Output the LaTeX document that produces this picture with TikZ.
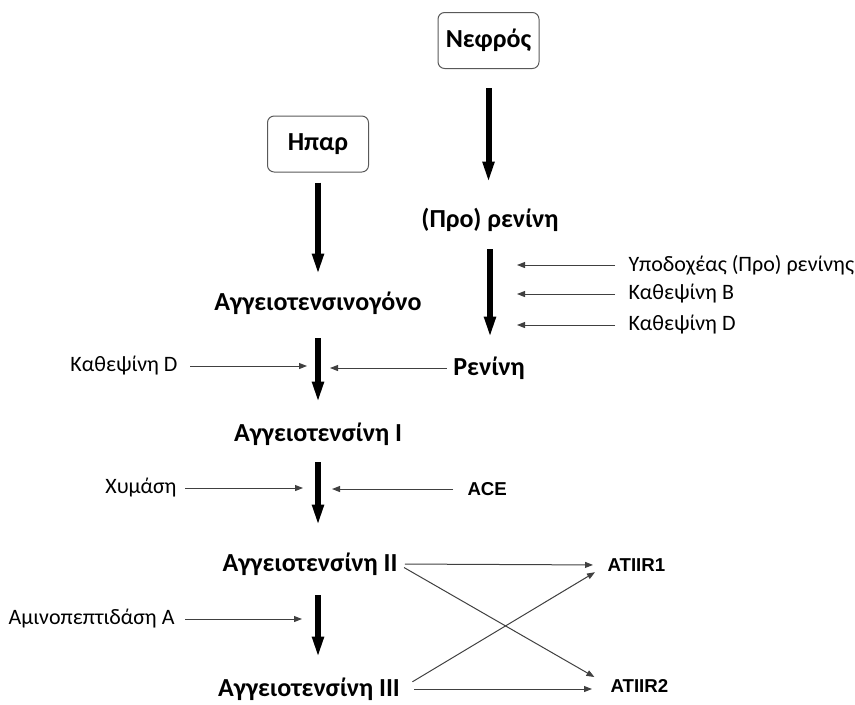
\documentclass[tikz,border=0pt]{standalone}
\usepackage{fontspec}
\setmainfont{Carlito}
\newfontfamily\arialfont{Liberation Sans}
\usetikzlibrary{arrows.meta}

\tikzset{every picture/.style={line width=0.75pt}}
\tikzset{
  organ/.style={draw=black!65, rounded corners=5pt, minimum width=75.75pt, minimum height=42pt, inner sep=0pt, font=\bfseries\fontsize{19.5}{22}\selectfont},
  substance/.style={inner sep=0pt, font=\bfseries\fontsize{19.5}{22}\selectfont},
  enzyme/.style={inner sep=0pt, font=\fontsize{16.5}{20}\selectfont},
  receptor/.style={inner sep=0pt, font=\arialfont\bfseries\fontsize{14}{16}\selectfont},
  bigarrow/.style={line width=4.5pt, -{Triangle[length=16pt,width=8pt]}},
  thinarrow/.style={line width=0.75pt, draw=black!75, -{Triangle[length=6pt,width=4.5pt]}},
}

\begin{document}
\begin{tikzpicture}[x=0.75pt,y=0.75pt,yscale=-1,xscale=1]
	\useasboundingbox (0,0) rectangle (855,704);

	% Text Node
	\node[organ] (nefros) at (488.5,40.5) {Νεφρός};
	% Text Node
	\node[organ] (hpar) at (318,144) {Ηπαρ};
	% Text Node
	\node[substance] (prorenini) at (490,220) {(Προ) ρενίνη};
	% Text Node
	\node[substance] (aggeiotensinogono) at (318,303) {Αγγειοτενσινογόνο};
	% Text Node
	\node[substance] (renini) at (489,368) {Ρενίνη};
	% Text Node
	\node[substance] (angI) at (318,434) {Αγγειοτενσίνη I};
	% Text Node
	\node[substance] (angII) at (310,564) {Αγγειοτενσίνη II};
	% Text Node
	\node[substance] (angIII) at (309,689) {Αγγειοτενσίνη III};

	% Text Node
	\node[enzyme, anchor=east] (kathepsinDL) at (178,366) {Καθεψίνη D};
	% Text Node
	\node[enzyme, anchor=east] (xymasi) at (177,488) {Χυμάση};
	% Text Node
	\node[enzyme, anchor=east] (aminopeptidasi) at (175,619) {Αμινοπεπτιδάση Α};
	% Text Node
	\node[enzyme, anchor=west] (ypodoxeas) at (628,265) {Υποδοχέας (Προ) ρενίνης};
	% Text Node
	\node[enzyme, anchor=west] (kathepsinB) at (628,294) {Καθεψίνη B};
	% Text Node
	\node[enzyme, anchor=west] (kathepsinDR) at (628,325) {Καθεψίνη D};
	% Text Node
	\node[receptor, anchor=west] (ace) at (467,489) {ACE};
	% Text Node
	\node[receptor, anchor=west] (atiir1) at (607,565) {ATIIR1};
	% Text Node
	\node[receptor, anchor=west] (atiir2) at (610,686) {ATIIR2};

	% ends of the enzyme arrows
	\coordinate (tipD) at (307,366);
	\coordinate (tipRen) at (330,368);
	\coordinate (tipXym) at (303,488);
	\coordinate (tipAce) at (332,489);
	\coordinate (tipAmin) at (302,619);
	\coordinate (tipYpo) at (517,265);
	\coordinate (tipB) at (517,294);
	\coordinate (tipDR) at (517,325);

	%Straight Lines
	\draw[bigarrow, shorten <=14.6pt, shorten >=27.75pt] (nefros.south) -- (nefros.south |- prorenini.center);
	\draw[bigarrow, shorten <=7.5pt, shorten >=21pt] (hpar.south) -- (hpar.south |- aggeiotensinogono.center);
	\draw[bigarrow, shorten <=21.75pt, shorten >=22.5pt] (prorenini.center) -- (prorenini.center |- renini.center);
	\draw[bigarrow, shorten <=26.25pt, shorten >=23.25pt] (aggeiotensinogono.center) -- (aggeiotensinogono.center |- angI.center);
	\draw[bigarrow, shorten <=21pt, shorten >=28.5pt] (angI.center) -- (angI.center |- angII.center);
	\draw[bigarrow, shorten <=23.25pt, shorten >=23.25pt] (angI.center |- angII.center) -- (angI.center |- angIII.center);

	%Straight Lines
	\draw[thinarrow, shorten <=9pt] (kathepsinDL.east) -- (tipD);
	\draw[thinarrow, shorten <=4.5pt] (renini.west) -- (tipRen);
	\draw[thinarrow, shorten <=6pt] (xymasi.east) -- (tipXym);
	\draw[thinarrow, shorten <=10.5pt] (ace.west) -- (tipAce);
	\draw[thinarrow, shorten <=7.5pt] (aminopeptidasi.east) -- (tipAmin);
	\draw[thinarrow, shorten <=9.75pt] (ypodoxeas.west) -- (tipYpo);
	\draw[thinarrow, shorten <=9.75pt] (kathepsinB.west) -- (tipB);
	\draw[thinarrow, shorten <=9.75pt] (kathepsinDR.west) -- (tipDR);

	%Straight Lines
	\draw[thinarrow, shorten <=5.25pt, shorten >=10.5pt] (angII.east) -- (atiir1.west);
	\draw[thinarrow, shorten <=5.25pt, shorten >=13.5pt] (angII.east) -- (atiir2.west);
	\draw[thinarrow, shorten <=10.5pt, shorten >=10.5pt] (angIII.east) -- (atiir1.west);
	\draw[thinarrow, shorten <=10.5pt, shorten >=13.5pt] (angIII.east) -- (angIII.east -| atiir2.west);

\end{tikzpicture}
\end{document}
